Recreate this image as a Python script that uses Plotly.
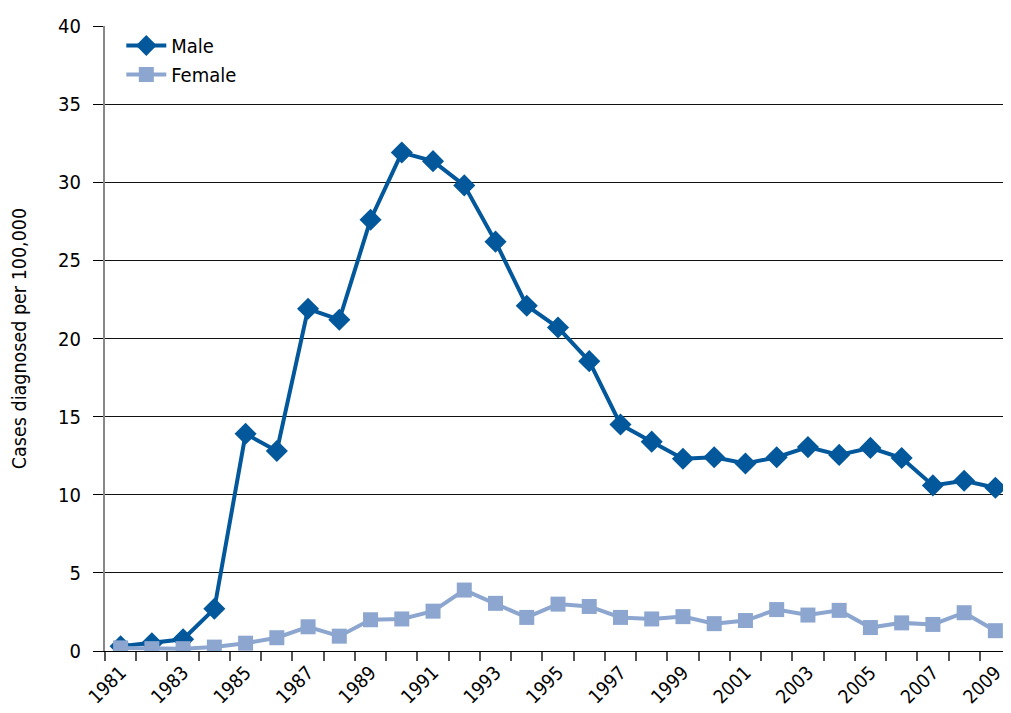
"""
AIDS cases diagnosed per 100,000, by sex, 1981-2009
"""

import plotly.graph_objects as go

years = list(range(1981, 2010))

male = [0.3, 0.5, 0.75, 2.7, 13.9, 12.8, 21.9, 21.2, 27.6, 31.9,
        31.35, 29.8, 26.2, 22.1, 20.7, 18.55, 14.5, 13.4, 12.3, 12.4,
        12.0, 12.4, 13.05, 12.55, 13.0, 12.35, 10.6, 10.9, 10.45]

female = [0.2, 0.15, 0.15, 0.25, 0.5, 0.85, 1.55, 0.95, 2.0, 2.05,
          2.55, 3.9, 3.05, 2.15, 3.0, 2.85, 2.15, 2.05, 2.2, 1.75,
          1.95, 2.65, 2.3, 2.6, 1.5, 1.8, 1.7, 2.45, 1.3]

label_years = years[::2]

FONT = "DejaVu Sans Condensed, Liberation Sans Narrow, Arial Narrow, sans-serif"

fig = go.Figure()

fig.add_trace(go.Scatter(
    x=years, y=male, name='Male',
    mode='lines+markers',
    line=dict(color='#03589b', width=4),
    marker=dict(symbol='diamond', size=17, color='#03589b')
))

fig.add_trace(go.Scatter(
    x=years, y=female, name='Female',
    mode='lines+markers',
    line=dict(color='#8ca6cf', width=4),
    marker=dict(symbol='square', size=15, color='#8ca6cf')
))

# page body has an 8px default margin, so the figure is 8px smaller
fig.update_layout(
    width=1003, height=705,
    margin=dict(l=97, r=0, t=18, b=62),
    paper_bgcolor='white',
    plot_bgcolor='white',
    font=dict(family=FONT, size=19, color='black'),
    showlegend=True,
    legend=dict(x=0.018, y=1.0, xanchor='left', yanchor='top',
                bgcolor='rgba(0,0,0,0)', font=dict(size=20),
                itemwidth=40, tracegroupgap=4),
    xaxis=dict(
        range=[years[0] - 0.5, years[-1] + 0.5],
        tickmode='array', tickvals=label_years,
        ticktext=[str(y) for y in label_years],
        ticks='', tickangle=-45, showgrid=False,
        showline=True, linecolor='black', linewidth=1,
        tickfont=dict(size=19), ticklabelstandoff=2,
        automargin=False,
        minor=dict(tick0=years[0] - 0.5, dtick=1, ticks='outside',
                   ticklen=9, tickcolor='#555555', tickwidth=1.5,
                   showgrid=False),
        zeroline=False
    ),
    yaxis=dict(
        range=[0, 40], dtick=5,
        showgrid=True, gridcolor='#111111', gridwidth=1,
        ticks='outside', ticklen=10, tickcolor='black',
        showline=True, linecolor='#888888', linewidth=2,
        zeroline=False, automargin=False,
        ticklabelstandoff=8,
        title=dict(text='Cases diagnosed per 100,000', font=dict(size=19.5),
                   standoff=27),
        tickfont=dict(size=20)
    )
)

fig.write_html("out.html")
